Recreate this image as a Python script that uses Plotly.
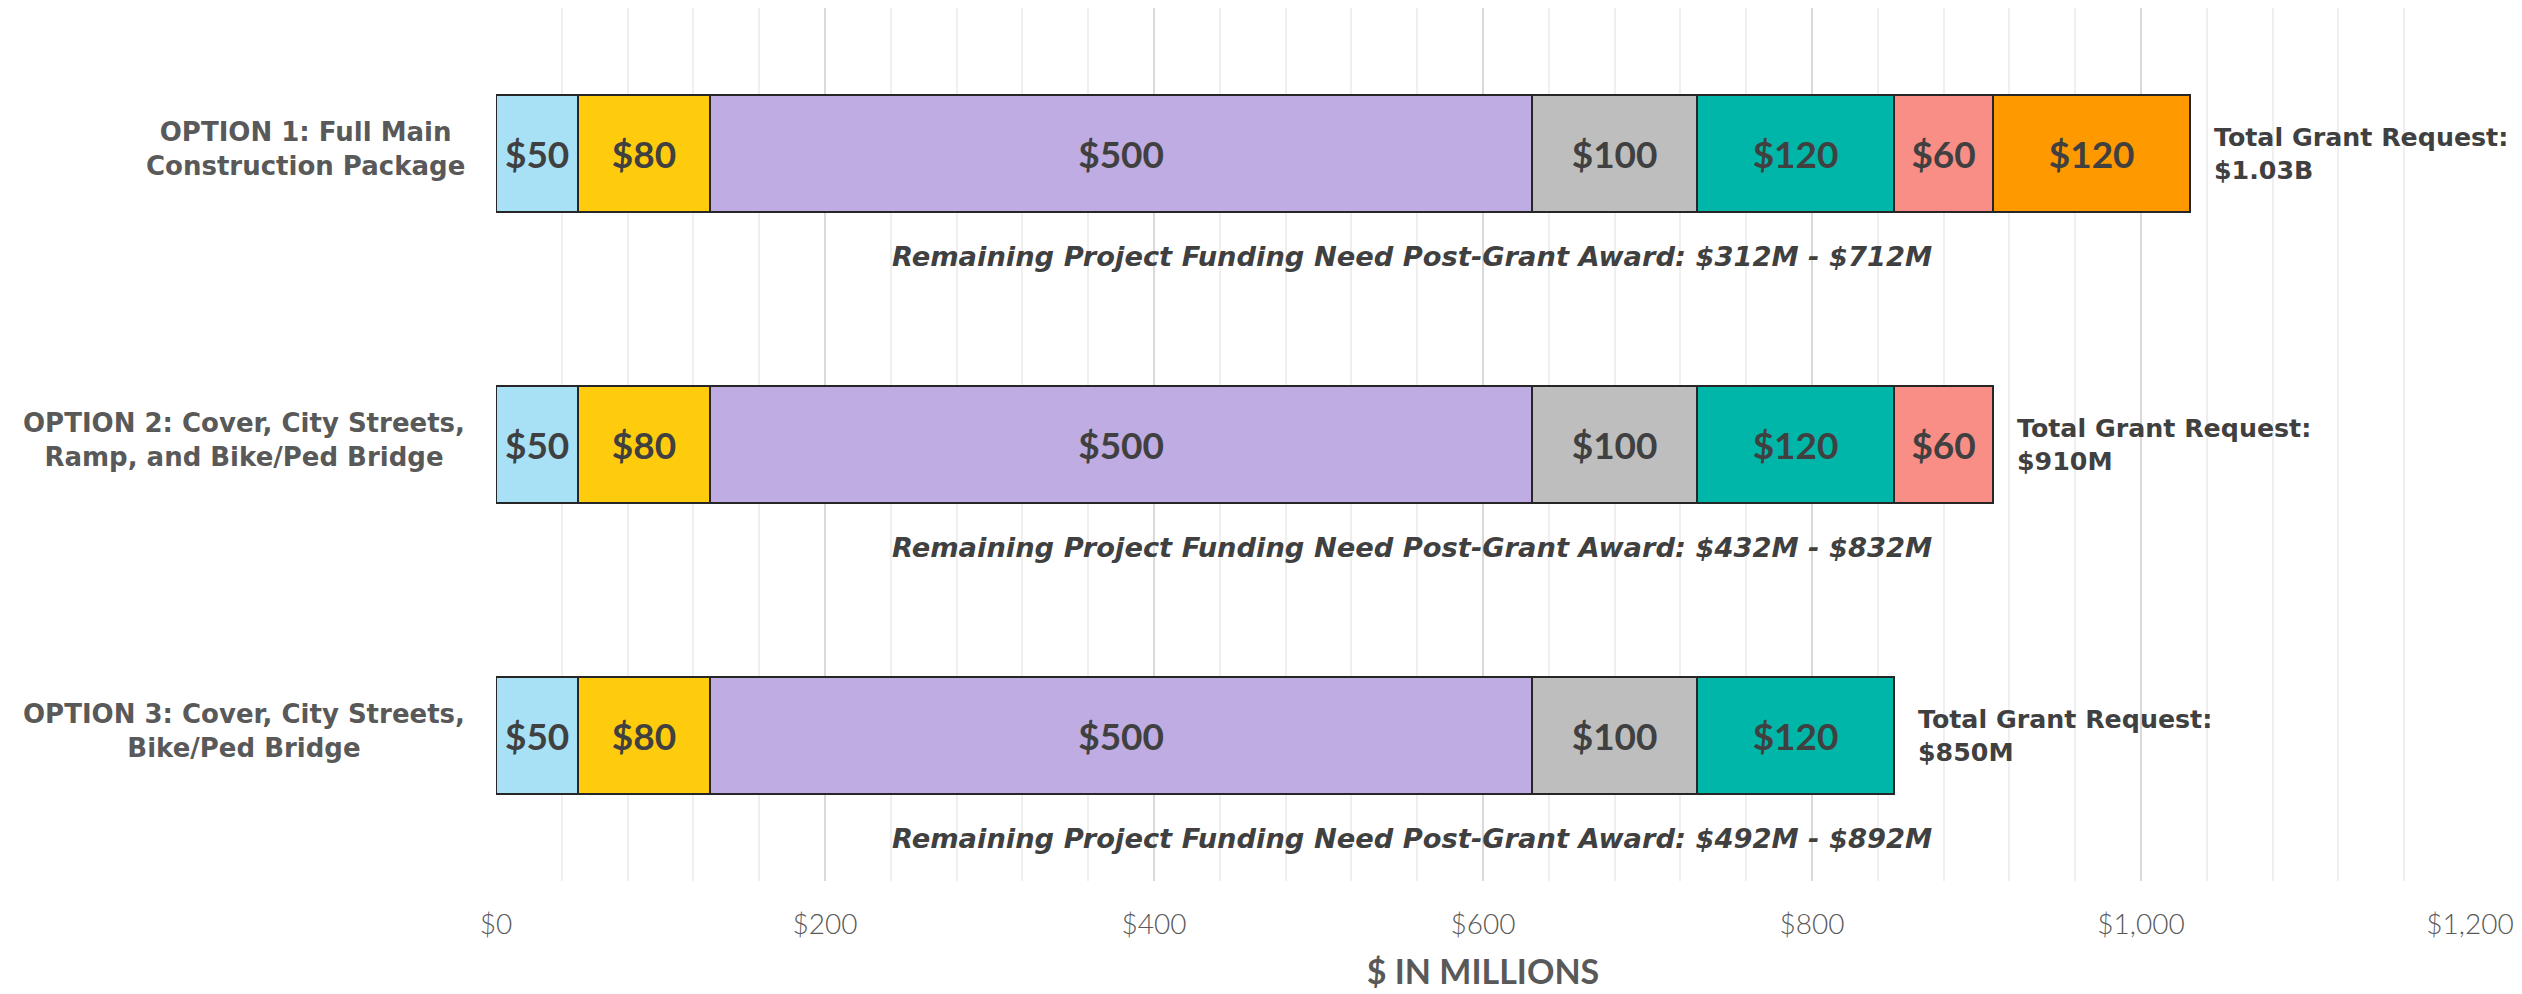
import plotly.graph_objects as go

options = ["OPTION 1: Full Main<br>Construction Package",
           "OPTION 2: Cover, City Streets,<br>Ramp, and Bike/Ped Bridge",
           "OPTION 3: Cover, City Streets,<br>Bike/Ped Bridge"]
seg_colors = ["#A8E0F6", "#FFCC0D", "#BFACE2", "#BEBEBE", "#00B6A8", "#F98E87", "#FF9900"]
# segment values per option (None = not included)
seg_values = [
    [50, 50, 50],
    [80, 80, 80],
    [500, 500, 500],
    [100, 100, 100],
    [120, 120, 120],
    [60, 60, None],
    [120, None, None],
]
totals = [1030, 910, 850]
total_labels = ["$1.03B", "$910M", "$850M"]
remaining_labels = ["$312M - $712M", "$432M - $832M", "$492M - $892M"]
tick_vals = [0, 200, 400, 600, 800, 1000, 1200]
tick_text = ["$0", "$200", "$400", "$600", "$800", "$1,000", "$1,200"]

FONT = "Lato, 'Open Sans', 'DejaVu Sans', sans-serif"
WIDE = "'DejaVu Sans', Lato, sans-serif"
yidx = list(range(len(options)))

fig = go.Figure()
for vals, col in zip(seg_values, seg_colors):
    ys = [y for y, v in zip(yidx, vals) if v is not None]
    xs = [v for v in vals if v is not None]
    fig.add_trace(go.Bar(
        x=xs, y=ys, orientation="h",
        marker=dict(color=col, line=dict(color="#262626", width=2)),
        text=["$%d" % v for v in xs], textposition="inside",
        insidetextanchor="middle", constraintext="none",
        textfont=dict(family=FONT, size=37, color="#404040", weight="bold"),
        width=0.4, showlegend=False, hoverinfo="skip",
    ))

for i, lab in enumerate(options):
    fig.add_annotation(x=0, xref="paper", y=i, yref="y", text=lab,
                       xanchor="right", yanchor="middle", align="center",
                       xshift=-29, yshift=5, showarrow=False,
                       font=dict(family=WIDE, size=26, color="#595959", weight="bold"))
    fig.add_annotation(x=totals[i], y=i, text="Total Grant Request:<br>" + total_labels[i],
                       xanchor="left", yanchor="middle", align="left", xshift=22,
                       showarrow=False,
                       font=dict(family=WIDE, size=25.3, color="#404040", weight="bold"))
    fig.add_annotation(x=557, y=i + 0.355,
                       text="<i>Remaining Project Funding Need Post-Grant Award: " + remaining_labels[i] + "</i>",
                       xanchor="center", yanchor="middle", showarrow=False,
                       font=dict(family=WIDE, size=27.3, color="#404040", weight="bold"))

fig.update_layout(
    barmode="stack", width=2522, height=994,
    margin=dict(l=488, r=60, t=0, b=121),
    plot_bgcolor="white", paper_bgcolor="white",
    xaxis=dict(range=[0, 1200], tickvals=tick_vals, ticktext=tick_text,
               showgrid=True, gridcolor="#D9D9D9", gridwidth=2,
               minor=dict(dtick=40, showgrid=True, gridcolor="#EFEFEF", gridwidth=1.5),
               zeroline=False, showline=False, ticks="",
               tickfont=dict(family=FONT, size=28, color="#595959", weight=300),
               ticklabelstandoff=24,
               title=dict(text="$ IN MILLIONS", standoff=21,
                          font=dict(family=FONT, size=34, color="#595959", weight="bold"))),
    yaxis=dict(range=[2.5, -0.5], showticklabels=False, showgrid=False,
               zeroline=False, showline=False, ticks=""),
)

fig.write_html("out.html")
